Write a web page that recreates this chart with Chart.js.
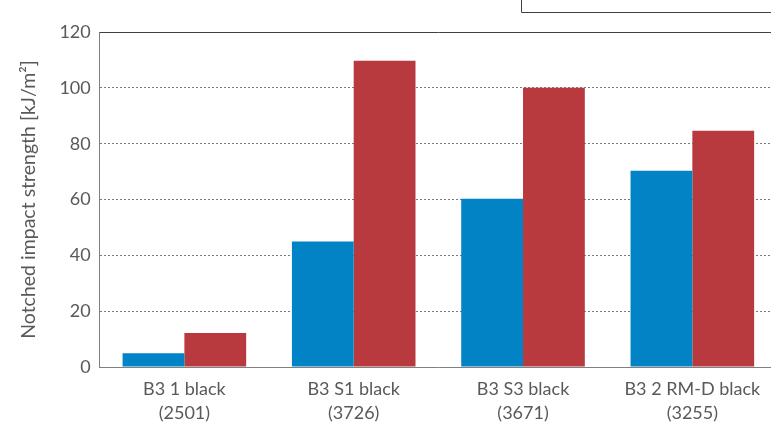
<!DOCTYPE html>
<html><head><meta charset="utf-8">
<script src="https://cdn.jsdelivr.net/npm/chart.js@4/dist/chart.umd.min.js"></script>
<style>html,body{margin:0;padding:0;background:#fff;overflow:hidden}#wrap{width:785px;height:429px;position:relative}</style>
</head><body><div id="wrap"><canvas id="c"></canvas></div>
<script>
const categories = [["B3 1 black","(2501)"],["B3 S1 black","(3726)"],["B3 S3 black","(3671)"],["B3 2 RM-D black","(3255)"]];
const seriesBlue = [5, 45, 60.3, 70.3];
const seriesRed = [12.2, 109.7, 100, 84.6];
const yTicks = [0, 20, 40, 60, 80, 100, 120];
const yTitle = "Notched impact strength [kJ/m²]";

const FONT = 'Lato';

const framePlugin = {
  id: 'frame',
  afterDraw(chart) {
    const {ctx, chartArea: a} = chart;
    ctx.save();
    ctx.strokeStyle = '#404040';
    ctx.lineWidth = 1;
    ctx.beginPath();
    ctx.moveTo(a.left, a.top + 0.5);
    ctx.lineTo(a.right, a.top + 0.5);
    ctx.lineTo(a.right, a.bottom);
    ctx.stroke();
    ctx.beginPath();
    ctx.moveTo(521.5, 0);
    ctx.lineTo(521.5, 12.5);
    ctx.lineTo(chart.width, 12.5);
    ctx.stroke();
    ctx.restore();
  }
};

new Chart(document.getElementById('c'), {
  type: 'bar',
  data: {
    labels: categories,
    datasets: [
      {label: 'A', data: seriesBlue, backgroundColor: '#0183c6', borderWidth: 0, categoryPercentage: 0.73, barPercentage: 1},
      {label: 'B', data: seriesRed, backgroundColor: '#b83a3e', borderWidth: 0, categoryPercentage: 0.73, barPercentage: 1}
    ]
  },
  options: {
    responsive: true,
    maintainAspectRatio: false,
    animation: false,
    layout: {padding: {top: 32, right: 8, left: 17, bottom: 2}},
    plugins: {legend: {display: false}, tooltip: {enabled: false}},
    scales: {
      x: {
        grid: {display: false},
        border: {display: true, color: '#808080', width: 1},
        ticks: {color: '#595959', font: {family: FONT, size: 18, lineHeight: 1.33}, padding: 2, maxRotation: 0}
      },
      y: {
        min: 0, max: 120,
        afterBuildTicks(scale) { scale.ticks = yTicks.map(v => ({value: v})); },
        grid: {color: '#7a7a7a', lineWidth: 1, drawTicks: false},
        border: {display: true, color: '#808080', width: 1, dash: [2, 2]},
        ticks: {color: '#595959', font: {family: FONT, size: 18}, padding: 9},
        title: {display: true, text: yTitle, color: '#595959', font: {family: FONT, size: 19.5}, padding: {top: 0, bottom: 10}}
      }
    }
  },
  plugins: [framePlugin]
});
</script></body></html>
